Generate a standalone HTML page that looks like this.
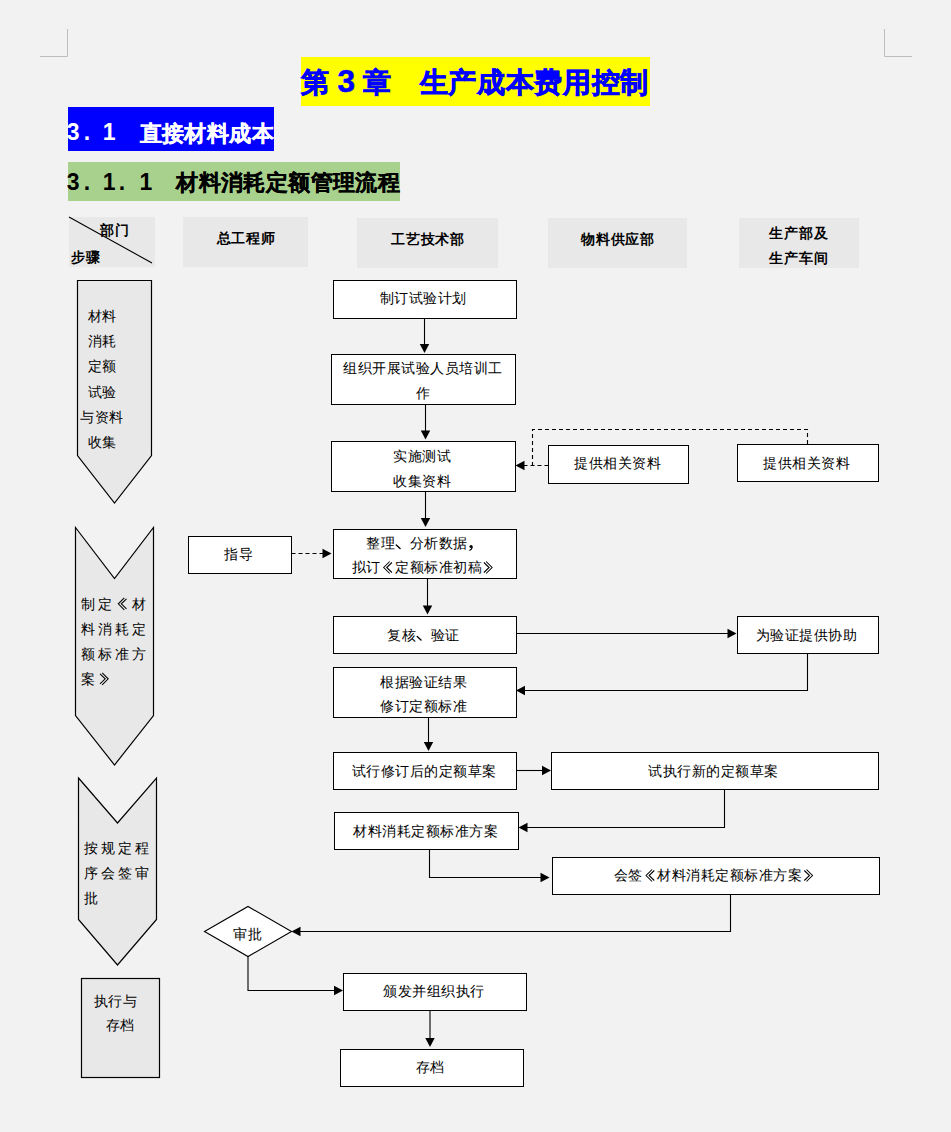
<!DOCTYPE html>
<html><head><meta charset="utf-8"><style>
html,body{margin:0;padding:0;background:#f2f2f2;}
body{width:951px;height:1132px;position:relative;overflow:hidden;font-family:"Liberation Sans", sans-serif;}
svg{position:absolute;left:0;top:0;}
svg text{font-family:"Liberation Sans", sans-serif;}
</style></head><body>
<svg width="951" height="1132" viewBox="0 0 951 1132">
<path d="M67.5 29V56.5H40M884.5 29V56.5H912" fill="none" stroke="#bdbdbd" stroke-width="1"/>
<rect x="301" y="57" width="349" height="49" fill="#ffff00"/>
<rect x="68" y="107" width="206" height="44" fill="#0000ff"/>
<rect x="68" y="162" width="332" height="39" fill="#a9d18e"/>
<rect x="69" y="217" width="86" height="50" fill="#e8e8e8"/>
<rect x="183" y="217" width="125" height="50" fill="#e8e8e8"/>
<rect x="357" y="218" width="141" height="50" fill="#e8e8e8"/>
<rect x="548" y="218" width="139" height="50" fill="#e8e8e8"/>
<rect x="739" y="218" width="120" height="50" fill="#e8e8e8"/>
<path d="M69 217L152 263" stroke="#000" stroke-width="1.1"/>
<polygon points="77.5,280.5 151.5,280.5 151.5,455.5 114.5,503 77.5,455.5" fill="#e8e8e8" stroke="#000" stroke-width="1.2"/>
<polygon points="75.5,527.5 114.5,578.5 153.5,527.5 153.5,715.5 114.5,765 75.5,715.5" fill="#e8e8e8" stroke="#000" stroke-width="1.2"/>
<polygon points="78.5,778 117.5,823 156.5,778 156.5,919.5 117.5,965 78.5,919.5" fill="#e8e8e8" stroke="#000" stroke-width="1.2"/>
<rect x="81.5" y="978.5" width="78" height="99" fill="#e8e8e8" stroke="#000" stroke-width="1.2"/>
<rect x="333.5" y="280.5" width="183" height="38" fill="#fff" stroke="#000" stroke-width="1"/>
<rect x="331.5" y="354.5" width="184" height="50" fill="#fff" stroke="#000" stroke-width="1"/>
<rect x="331.5" y="441.5" width="184" height="50" fill="#fff" stroke="#000" stroke-width="1"/>
<rect x="333.5" y="529.5" width="183" height="49" fill="#fff" stroke="#000" stroke-width="1"/>
<rect x="333.5" y="616.5" width="183" height="37" fill="#fff" stroke="#000" stroke-width="1"/>
<rect x="333.5" y="667.5" width="183" height="50" fill="#fff" stroke="#000" stroke-width="1"/>
<rect x="333.5" y="752.5" width="183" height="37" fill="#fff" stroke="#000" stroke-width="1"/>
<rect x="334.5" y="812.5" width="184" height="37" fill="#fff" stroke="#000" stroke-width="1"/>
<rect x="343.5" y="973.5" width="183" height="37" fill="#fff" stroke="#000" stroke-width="1"/>
<rect x="340.5" y="1049.5" width="183" height="37" fill="#fff" stroke="#000" stroke-width="1"/>
<rect x="548.5" y="445.5" width="140" height="38" fill="#fff" stroke="#000" stroke-width="1"/>
<rect x="737.5" y="444.5" width="141" height="37" fill="#fff" stroke="#000" stroke-width="1"/>
<rect x="737.5" y="616.5" width="141" height="37" fill="#fff" stroke="#000" stroke-width="1"/>
<rect x="551.5" y="752.5" width="327" height="37" fill="#fff" stroke="#000" stroke-width="1"/>
<rect x="552.5" y="857.5" width="327" height="37" fill="#fff" stroke="#000" stroke-width="1"/>
<rect x="188.5" y="536.5" width="103" height="37" fill="#fff" stroke="#000" stroke-width="1"/>
<polygon points="204.5,931.5 248,906.5 291.5,931.5 248,956.5" fill="#fff" stroke="#000" stroke-width="1.1"/>
<path d="M424.5 318V345" fill="none" stroke="#000" stroke-width="1.1"/>
<polygon points="424.5,353 419.8,344 429.2,344" fill="#000"/>
<path d="M425.5 404V431" fill="none" stroke="#000" stroke-width="1.1"/>
<polygon points="425.5,439.5 420.8,430.5 430.2,430.5" fill="#000"/>
<path d="M425.5 491V519" fill="none" stroke="#000" stroke-width="1.1"/>
<polygon points="425.5,527 420.8,518 430.2,518" fill="#000"/>
<path d="M427.5 578V606" fill="none" stroke="#000" stroke-width="1.1"/>
<polygon points="427.5,614.5 422.8,605.5 432.2,605.5" fill="#000"/>
<path d="M428.5 717.5V743" fill="none" stroke="#000" stroke-width="1.1"/>
<polygon points="428.5,751 423.8,742 433.2,742" fill="#000"/>
<path d="M516.5 633.5H729" fill="none" stroke="#000" stroke-width="1.1"/>
<polygon points="736.5,633.5 727.5,628.8 727.5,638.2" fill="#000"/>
<path d="M807.5 653.5V690.5H524" fill="none" stroke="#000" stroke-width="1.1"/>
<polygon points="516,690.5 525,685.8 525,695.2" fill="#000"/>
<path d="M516.5 770.5H543" fill="none" stroke="#000" stroke-width="1.1"/>
<polygon points="551,770.5 542,765.8 542,775.2" fill="#000"/>
<path d="M724.5 789V827.5H527" fill="none" stroke="#000" stroke-width="1.1"/>
<polygon points="518.5,827.5 527.5,822.8 527.5,832.2" fill="#000"/>
<path d="M429.5 849.5V877.5H541" fill="none" stroke="#000" stroke-width="1.1"/>
<polygon points="549.5,877.5 540.5,872.8 540.5,882.2" fill="#000"/>
<path d="M730.5 894.5V931.5H300" fill="none" stroke="#000" stroke-width="1.1"/>
<polygon points="291.5,931.5 300.5,926.8 300.5,936.2" fill="#000"/>
<path d="M248 956.5V990.5H335" fill="none" stroke="#000" stroke-width="1.1"/>
<polygon points="343,990.5 334,985.8 334,995.2" fill="#000"/>
<path d="M430 1010.5V1039" fill="none" stroke="#000" stroke-width="1.1"/>
<polygon points="430,1047 425.3,1038 434.7,1038" fill="#000"/>
<path d="M548.5 465.5H523" fill="none" stroke="#000" stroke-width="1.1" stroke-dasharray="4,3"/>
<polygon points="515.5,465.5 524.5,460.8 524.5,470.2" fill="#000"/>
<path d="M807.5 444V429.5H532.5V465.5" fill="none" stroke="#000" stroke-width="1.1" stroke-dasharray="4,3"/>
<path d="M291.5 553.5H323" fill="none" stroke="#000" stroke-width="1.1" stroke-dasharray="4,3"/>
<polygon points="331.5,553.5 322.5,548.8 322.5,558.2" fill="#000"/>
<g font-size="27.5" font-weight="bold" text-anchor="middle" fill="#0000ff" stroke="#0000ff" stroke-width="0.7"><text x="314.80" y="92.00">第</text></g>
<text x="346.2" y="92.4" font-size="31.5" font-weight="bold" text-anchor="middle" fill="#0000ff" stroke="#0000ff" stroke-width="0.6">3</text>
<g font-size="27.5" font-weight="bold" text-anchor="middle" fill="#0000ff" stroke="#0000ff" stroke-width="0.7"><text x="377.00" y="92.00">章</text></g>
<g font-size="27.5" font-weight="bold" text-anchor="middle" fill="#0000ff" stroke="#0000ff" stroke-width="0.7"><text x="433.50" y="92.00">生</text><text x="462.20" y="92.00">产</text><text x="490.90" y="92.00">成</text><text x="519.60" y="92.00">本</text><text x="548.30" y="92.00">费</text><text x="577.00" y="92.00">用</text><text x="605.70" y="92.00">控</text><text x="634.40" y="92.00">制</text></g>
<text x="73.1" y="140.3" font-size="23" font-weight="bold" text-anchor="middle" fill="#fff">3</text>
<text x="87" y="140.3" font-size="23" font-weight="bold" text-anchor="middle" fill="#fff">.</text>
<text x="109.1" y="140.3" font-size="23" font-weight="bold" text-anchor="middle" fill="#fff">1</text>
<g font-size="21.5" font-weight="bold" text-anchor="middle" fill="#fff" stroke="#fff" stroke-width="0.3"><text x="150.65" y="140.70">直</text><text x="173.05" y="140.70">接</text><text x="195.45" y="140.70">材</text><text x="217.85" y="140.70">料</text><text x="240.25" y="140.70">成</text><text x="262.65" y="140.70">本</text></g>
<text x="73.1" y="190" font-size="23" font-weight="bold" text-anchor="middle" fill="#000">3</text>
<text x="87" y="190" font-size="23" font-weight="bold" text-anchor="middle" fill="#000">.</text>
<text x="109.1" y="190" font-size="23" font-weight="bold" text-anchor="middle" fill="#000">1</text>
<text x="122" y="190" font-size="23" font-weight="bold" text-anchor="middle" fill="#000">.</text>
<text x="146" y="190" font-size="23" font-weight="bold" text-anchor="middle" fill="#000">1</text>
<g font-size="21.5" font-weight="bold" text-anchor="middle" fill="#000" stroke="#000" stroke-width="0.3"><text x="187.10" y="189.60">材</text><text x="209.50" y="189.60">料</text><text x="231.90" y="189.60">消</text><text x="254.30" y="189.60">耗</text><text x="276.70" y="189.60">定</text><text x="299.10" y="189.60">额</text><text x="321.50" y="189.60">管</text><text x="343.90" y="189.60">理</text><text x="366.30" y="189.60">流</text><text x="388.70" y="189.60">程</text></g>
<g font-size="13.6" font-weight="bold" text-anchor="middle" fill="#000"><text x="106.85" y="235.38">部</text><text x="121.65" y="235.38">门</text></g>
<g font-size="13.6" font-weight="bold" text-anchor="middle" fill="#000"><text x="77.90" y="261.58">步</text><text x="92.70" y="261.58">骤</text></g>
<g font-size="13.6" font-weight="bold" text-anchor="middle" fill="#000"><text x="223.60" y="242.58">总</text><text x="238.40" y="242.58">工</text><text x="253.20" y="242.58">程</text><text x="268.00" y="242.58">师</text></g>
<g font-size="13.6" font-weight="bold" text-anchor="middle" fill="#000"><text x="397.90" y="243.58">工</text><text x="412.70" y="243.58">艺</text><text x="427.50" y="243.58">技</text><text x="442.30" y="243.58">术</text><text x="457.10" y="243.58">部</text></g>
<g font-size="13.6" font-weight="bold" text-anchor="middle" fill="#000"><text x="587.90" y="243.58">物</text><text x="602.70" y="243.58">料</text><text x="617.50" y="243.58">供</text><text x="632.30" y="243.58">应</text><text x="647.10" y="243.58">部</text></g>
<g font-size="13.6" font-weight="bold" text-anchor="middle" fill="#000"><text x="776.30" y="237.88">生</text><text x="791.10" y="237.88">产</text><text x="805.90" y="237.88">部</text><text x="820.70" y="237.88">及</text></g>
<g font-size="13.6" font-weight="bold" text-anchor="middle" fill="#000"><text x="776.30" y="262.58">生</text><text x="791.10" y="262.58">产</text><text x="805.90" y="262.58">车</text><text x="820.70" y="262.58">间</text></g>
<g font-size="14" font-weight="normal" text-anchor="middle" fill="#000"><text x="94.55" y="321.20">材</text><text x="108.85" y="321.20">料</text></g>
<g font-size="14" font-weight="normal" text-anchor="middle" fill="#000"><text x="94.55" y="346.30">消</text><text x="108.85" y="346.30">耗</text></g>
<g font-size="14" font-weight="normal" text-anchor="middle" fill="#000"><text x="94.55" y="371.40">定</text><text x="108.85" y="371.40">额</text></g>
<g font-size="14" font-weight="normal" text-anchor="middle" fill="#000"><text x="94.55" y="396.50">试</text><text x="108.85" y="396.50">验</text></g>
<g font-size="14" font-weight="normal" text-anchor="middle" fill="#000"><text x="87.40" y="421.60">与</text><text x="101.70" y="421.60">资</text><text x="116.00" y="421.60">料</text></g>
<g font-size="14" font-weight="normal" text-anchor="middle" fill="#000"><text x="94.55" y="446.70">收</text><text x="108.85" y="446.70">集</text></g>
<g font-size="14" font-weight="normal" text-anchor="middle" fill="#000"><text x="88.10" y="608.50">制</text><text x="105.10" y="608.50">定</text><text x="139.10" y="608.50">材</text></g>
<g font-size="14" font-weight="normal" text-anchor="middle" fill="#000"><text x="88.10" y="633.50">料</text><text x="105.10" y="633.50">消</text><text x="122.10" y="633.50">耗</text><text x="139.10" y="633.50">定</text></g>
<g font-size="14" font-weight="normal" text-anchor="middle" fill="#000"><text x="88.10" y="658.50">额</text><text x="105.10" y="658.50">标</text><text x="122.10" y="658.50">准</text><text x="139.10" y="658.50">方</text></g>
<g font-size="14" font-weight="normal" text-anchor="middle" fill="#000"><text x="88.10" y="683.50">案</text></g>
<g font-size="14" font-weight="normal" text-anchor="middle" fill="#000"><text x="91.30" y="853.20">按</text><text x="108.20" y="853.20">规</text><text x="125.10" y="853.20">定</text><text x="142.00" y="853.20">程</text></g>
<g font-size="14" font-weight="normal" text-anchor="middle" fill="#000"><text x="91.30" y="878.00">序</text><text x="108.20" y="878.00">会</text><text x="125.10" y="878.00">签</text><text x="142.00" y="878.00">审</text></g>
<g font-size="14" font-weight="normal" text-anchor="middle" fill="#000"><text x="91.30" y="902.80">批</text></g>
<g font-size="14" font-weight="normal" text-anchor="middle" fill="#000"><text x="100.65" y="1006.00">执</text><text x="115.15" y="1006.00">行</text><text x="129.65" y="1006.00">与</text></g>
<g font-size="14" font-weight="normal" text-anchor="middle" fill="#000"><text x="112.60" y="1030.10">存</text><text x="127.10" y="1030.10">档</text></g>
<g font-size="14" font-weight="normal" text-anchor="middle" fill="#000"><text x="386.95" y="303.20">制</text><text x="401.45" y="303.20">订</text><text x="415.95" y="303.20">试</text><text x="430.45" y="303.20">验</text><text x="444.95" y="303.20">计</text><text x="459.45" y="303.20">划</text></g>
<g font-size="14" font-weight="normal" text-anchor="middle" fill="#000"><text x="350.00" y="372.80">组</text><text x="364.50" y="372.80">织</text><text x="379.00" y="372.80">开</text><text x="393.50" y="372.80">展</text><text x="408.00" y="372.80">试</text><text x="422.50" y="372.80">验</text><text x="437.00" y="372.80">人</text><text x="451.50" y="372.80">员</text><text x="466.00" y="372.80">培</text><text x="480.50" y="372.80">训</text><text x="495.00" y="372.80">工</text></g>
<g font-size="14" font-weight="normal" text-anchor="middle" fill="#000"><text x="422.50" y="398.20">作</text></g>
<g font-size="14" font-weight="normal" text-anchor="middle" fill="#000"><text x="400.25" y="461.20">实</text><text x="414.75" y="461.20">施</text><text x="429.25" y="461.20">测</text><text x="443.75" y="461.20">试</text></g>
<g font-size="14" font-weight="normal" text-anchor="middle" fill="#000"><text x="400.25" y="486.20">收</text><text x="414.75" y="486.20">集</text><text x="429.25" y="486.20">资</text><text x="443.75" y="486.20">料</text></g>
<g font-size="14" font-weight="normal" text-anchor="middle" fill="#000"><text x="373.30" y="548.20">整</text><text x="387.80" y="548.20">理</text><text x="416.80" y="548.20">分</text><text x="431.30" y="548.20">析</text><text x="445.80" y="548.20">数</text><text x="460.30" y="548.20">据</text></g>
<g font-size="14" font-weight="normal" text-anchor="middle" fill="#000"><text x="358.50" y="572.20">拟</text><text x="373.00" y="572.20">订</text><text x="402.00" y="572.20">定</text><text x="416.50" y="572.20">额</text><text x="431.00" y="572.20">标</text><text x="445.50" y="572.20">准</text><text x="460.00" y="572.20">初</text><text x="474.50" y="572.20">稿</text></g>
<g font-size="14" font-weight="normal" text-anchor="middle" fill="#000"><text x="394.25" y="639.70">复</text><text x="408.75" y="639.70">核</text><text x="437.75" y="639.70">验</text><text x="452.25" y="639.70">证</text></g>
<g font-size="14" font-weight="normal" text-anchor="middle" fill="#000"><text x="387.05" y="687.20">根</text><text x="401.55" y="687.20">据</text><text x="416.05" y="687.20">验</text><text x="430.55" y="687.20">证</text><text x="445.05" y="687.20">结</text><text x="459.55" y="687.20">果</text></g>
<g font-size="14" font-weight="normal" text-anchor="middle" fill="#000"><text x="387.05" y="711.20">修</text><text x="401.55" y="711.20">订</text><text x="416.05" y="711.20">定</text><text x="430.55" y="711.20">额</text><text x="445.05" y="711.20">标</text><text x="459.55" y="711.20">准</text></g>
<g font-size="14" font-weight="normal" text-anchor="middle" fill="#000"><text x="358.50" y="775.50">试</text><text x="373.00" y="775.50">行</text><text x="387.50" y="775.50">修</text><text x="402.00" y="775.50">订</text><text x="416.50" y="775.50">后</text><text x="431.00" y="775.50">的</text><text x="445.50" y="775.50">定</text><text x="460.00" y="775.50">额</text><text x="474.50" y="775.50">草</text><text x="489.00" y="775.50">案</text></g>
<g font-size="14" font-weight="normal" text-anchor="middle" fill="#000"><text x="360.25" y="836.20">材</text><text x="374.75" y="836.20">料</text><text x="389.25" y="836.20">消</text><text x="403.75" y="836.20">耗</text><text x="418.25" y="836.20">定</text><text x="432.75" y="836.20">额</text><text x="447.25" y="836.20">标</text><text x="461.75" y="836.20">准</text><text x="476.25" y="836.20">方</text><text x="490.75" y="836.20">案</text></g>
<g font-size="14" font-weight="normal" text-anchor="middle" fill="#000"><text x="390.10" y="995.80">颁</text><text x="404.60" y="995.80">发</text><text x="419.10" y="995.80">并</text><text x="433.60" y="995.80">组</text><text x="448.10" y="995.80">织</text><text x="462.60" y="995.80">执</text><text x="477.10" y="995.80">行</text></g>
<g font-size="14" font-weight="normal" text-anchor="middle" fill="#000"><text x="422.95" y="1072.20">存</text><text x="437.45" y="1072.20">档</text></g>
<g font-size="14" font-weight="normal" text-anchor="middle" fill="#000"><text x="581.00" y="468.20">提</text><text x="595.50" y="468.20">供</text><text x="610.00" y="468.20">相</text><text x="624.50" y="468.20">关</text><text x="639.00" y="468.20">资</text><text x="653.50" y="468.20">料</text></g>
<g font-size="14" font-weight="normal" text-anchor="middle" fill="#000"><text x="770.10" y="467.60">提</text><text x="784.60" y="467.60">供</text><text x="799.10" y="467.60">相</text><text x="813.60" y="467.60">关</text><text x="828.10" y="467.60">资</text><text x="842.60" y="467.60">料</text></g>
<g font-size="14" font-weight="normal" text-anchor="middle" fill="#000"><text x="762.70" y="639.80">为</text><text x="777.20" y="639.80">验</text><text x="791.70" y="639.80">证</text><text x="806.20" y="639.80">提</text><text x="820.70" y="639.80">供</text><text x="835.20" y="639.80">协</text><text x="849.70" y="639.80">助</text></g>
<g font-size="14" font-weight="normal" text-anchor="middle" fill="#000"><text x="655.45" y="775.60">试</text><text x="669.95" y="775.60">执</text><text x="684.45" y="775.60">行</text><text x="698.95" y="775.60">新</text><text x="713.45" y="775.60">的</text><text x="727.95" y="775.60">定</text><text x="742.45" y="775.60">额</text><text x="756.95" y="775.60">草</text><text x="771.45" y="775.60">案</text></g>
<g font-size="14" font-weight="normal" text-anchor="middle" fill="#000"><text x="620.90" y="880.20">会</text><text x="635.40" y="880.20">签</text><text x="664.40" y="880.20">材</text><text x="678.90" y="880.20">料</text><text x="693.40" y="880.20">消</text><text x="707.90" y="880.20">耗</text><text x="722.40" y="880.20">定</text><text x="736.90" y="880.20">额</text><text x="751.40" y="880.20">标</text><text x="765.90" y="880.20">准</text><text x="780.40" y="880.20">方</text><text x="794.90" y="880.20">案</text></g>
<g font-size="14" font-weight="normal" text-anchor="middle" fill="#000"><text x="231.20" y="559.40">指</text><text x="245.70" y="559.40">导</text></g>
<g font-size="14" font-weight="normal" text-anchor="middle" fill="#000"><text x="240.00" y="939.20">审</text><text x="254.50" y="939.20">批</text></g>
<path d="M124.30 597.80L118.30 603.80L124.30 609.80M126.50 598.80L121.30 603.80L126.50 608.80" fill="none" stroke="#000" stroke-width="1.05"/>
<path d="M102.20 672.80L108.20 678.80L102.20 684.80M100.00 673.80L105.20 678.80L100.00 683.80" fill="none" stroke="#000" stroke-width="1.05"/>
<path d="M396.25 545.00L400.05 548.50" fill="none" stroke="#000" stroke-width="1.4" stroke-linecap="round"/>
<circle cx="471.05" cy="546.50" r="1.60" fill="#000"/><path d="M472.15 547.00Q472.05 549.50 469.35 550.50" fill="none" stroke="#000" stroke-width="1.1"/>
<path d="M389.70 561.50L383.70 567.50L389.70 573.50M391.90 562.50L386.70 567.50L391.90 572.50" fill="none" stroke="#000" stroke-width="1.05"/>
<path d="M486.10 561.50L492.10 567.50L486.10 573.50M483.90 562.50L489.10 567.50L483.90 572.50" fill="none" stroke="#000" stroke-width="1.05"/>
<path d="M417.20 636.50L421.00 640.00" fill="none" stroke="#000" stroke-width="1.4" stroke-linecap="round"/>
<path d="M652.10 869.50L646.10 875.50L652.10 881.50M654.30 870.50L649.10 875.50L654.30 880.50" fill="none" stroke="#000" stroke-width="1.05"/>
<path d="M806.50 869.50L812.50 875.50L806.50 881.50M804.30 870.50L809.50 875.50L804.30 880.50" fill="none" stroke="#000" stroke-width="1.05"/>
</svg>
</body></html>
